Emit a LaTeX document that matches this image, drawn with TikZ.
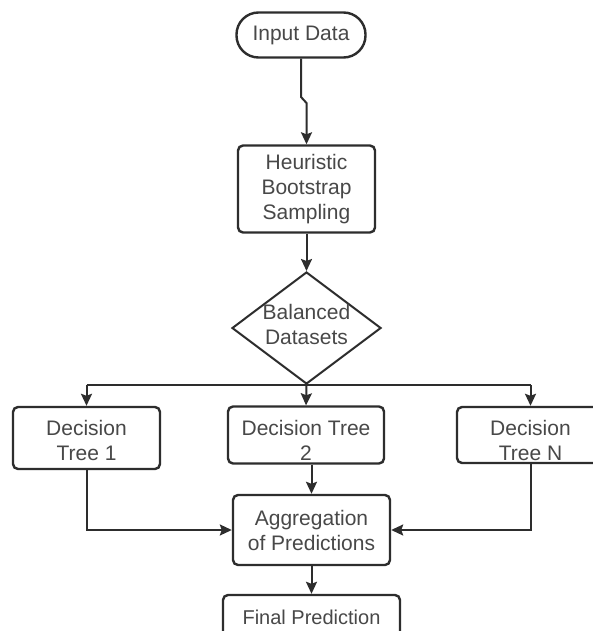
\documentclass[tikz,border=0pt]{standalone}
\usepackage{fontspec}
\setmainfont{Liberation Sans}
\usetikzlibrary{arrows.meta,shapes.geometric}
\definecolor{txt}{RGB}{72,72,72}
\definecolor{ln}{RGB}{45,45,45}
\begin{document}
\begin{tikzpicture}[x=1pt,y=-1pt,
  box/.style={draw=ln,line width=2.4pt,rounded corners=5pt,text=txt,align=center,
    font=\fontsize{21}{25}\selectfont,inner sep=0pt},
  lbl/.style={text=txt,align=center,font=\fontsize{21}{25}\selectfont,inner sep=0pt},
  conn/.style={draw=ln,line width=2pt,-{Stealth[length=12pt,width=11pt,inset=2pt]}},
  plain/.style={draw=ln,line width=2pt}]
\useasboundingbox[fill=white] (0,0) rectangle (593,631);
\node[box,rounded corners=22pt,minimum width=129pt,minimum height=45pt] (in) at (301,35) {Input Data};
\node[box,minimum width=137pt,minimum height=87pt] (heur) at (306.5,189) {Heuristic\\Bootstrap\\Sampling};
\node[box,diamond,rounded corners=0pt,line width=2pt,aspect=1.33,minimum width=149pt,minimum height=112pt] (bal) at (306.5,328) {};
\node[lbl] (balt) at (306.5,324) {Balanced\\Datasets};
\node[box,minimum width=147pt,minimum height=62pt] (dt1) at (86.5,438) {};
\node[lbl] (dt1t) at (86.5,440) {Decision\\Tree 1};
\node[box,minimum width=156pt,minimum height=57pt] (dt2) at (306,435) {};
\node[lbl] (dt2t) at (306,440) {Decision Tree\\2};
\node[box,minimum width=147pt,minimum height=56pt] (dtn) at (530.5,435) {};
\node[lbl] (dtnt) at (530.5,440) {Decision\\Tree N};
\node[box,minimum width=157pt,minimum height=70pt] (agg) at (311.5,530) {Aggregation\\of Predictions};
\node[box,minimum width=177pt,minimum height=45pt,font=\fontsize{20}{25}\selectfont] (fin) at (311.5,617.5) {Final Prediction};
\coordinate (k1) at (301,97);
\coordinate (k2) at (306.5,103);
\draw[conn] (in.south) -- (k1) -- (k2) -- (heur.north);
\draw[conn] (heur.south) -- (bal.north);
\coordinate (j1) at (dt1.north |- bal.south);
\coordinate (jn) at (dtn.north |- bal.south);
\draw[plain] (j1) -- (jn);
\draw[conn] (j1) -- (dt1.north);
\draw[conn] (bal.south) -- (dt2.north);
\draw[conn] (jn) -- (dtn.north);
\coordinate (a2) at (agg.north |- dt2.south);
\draw[conn] (a2) -- (agg.north);
\draw[conn] (dt1.south) |- (agg.west);
\draw[conn] (dtn.south) |- (agg.east);
\draw[conn] (agg.south) -- (fin.north);
\end{tikzpicture}
\end{document}
